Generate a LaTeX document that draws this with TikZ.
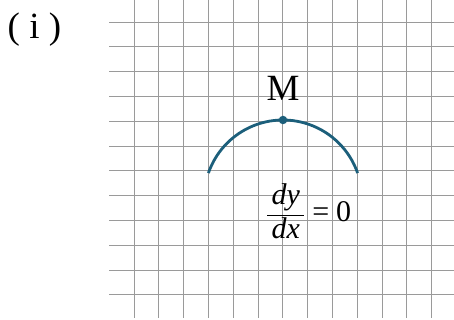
\documentclass[tikz,border=0pt]{standalone}
\usepackage{fontspec}
\setmainfont{Liberation Serif}
\usetikzlibrary{calc}
\definecolor{curveblue}{HTML}{1C5F7B}
\definecolor{gridgray}{HTML}{9A9A9A}
\tikzset{
  gridline/.style={draw=gridgray, line width=0.9pt},
  curve/.style={draw=curveblue, line width=2.8pt},
  bigtext/.style={inner sep=0pt, font=\fontsize{37}{40}\selectfont},
  eqtext/.style={inner sep=0pt, font=\fontsize{30}{34}\selectfont}
}
\begin{document}
\begin{tikzpicture}[x=1pt, y=-1pt]
\useasboundingbox (0,0) rectangle (454,320);
% grid
\foreach \k in {0,...,12} {
  \draw[gridline] ({134+24.8*\k},0) -- ({134+24.8*\k},318);
}
\foreach \k in {0,...,11} {
  \draw[gridline] (109,{22+24.8*\k}) -- (454,{22+24.8*\k});
}
% label
\node[bigtext, anchor=base west] (lbl) at (7.5,39) {( i )};
% curve
\coordinate (ctr) at (283,199);
\coordinate (left) at ($(ctr)+(-160.8:79)$);
\draw[curve] (left) arc[start angle=-160.8, end angle=-19.2, radius=79];
\node[circle, fill=curveblue, inner sep=0pt, minimum size=8.5pt] (Mpt) at (283,120) {};
\node[bigtext, anchor=base] (Mlbl) at (283,101) {M};
\node[eqtext, anchor=base west] (eq) at (265.8,221) {$\displaystyle\frac{\hbox to 37pt{\hss\itshape dy\hss}}{\hbox to 37pt{\hss\itshape dx\hss}}\mathrel{\mbox{=}}\mbox{0}$};
\end{tikzpicture}
\end{document}
